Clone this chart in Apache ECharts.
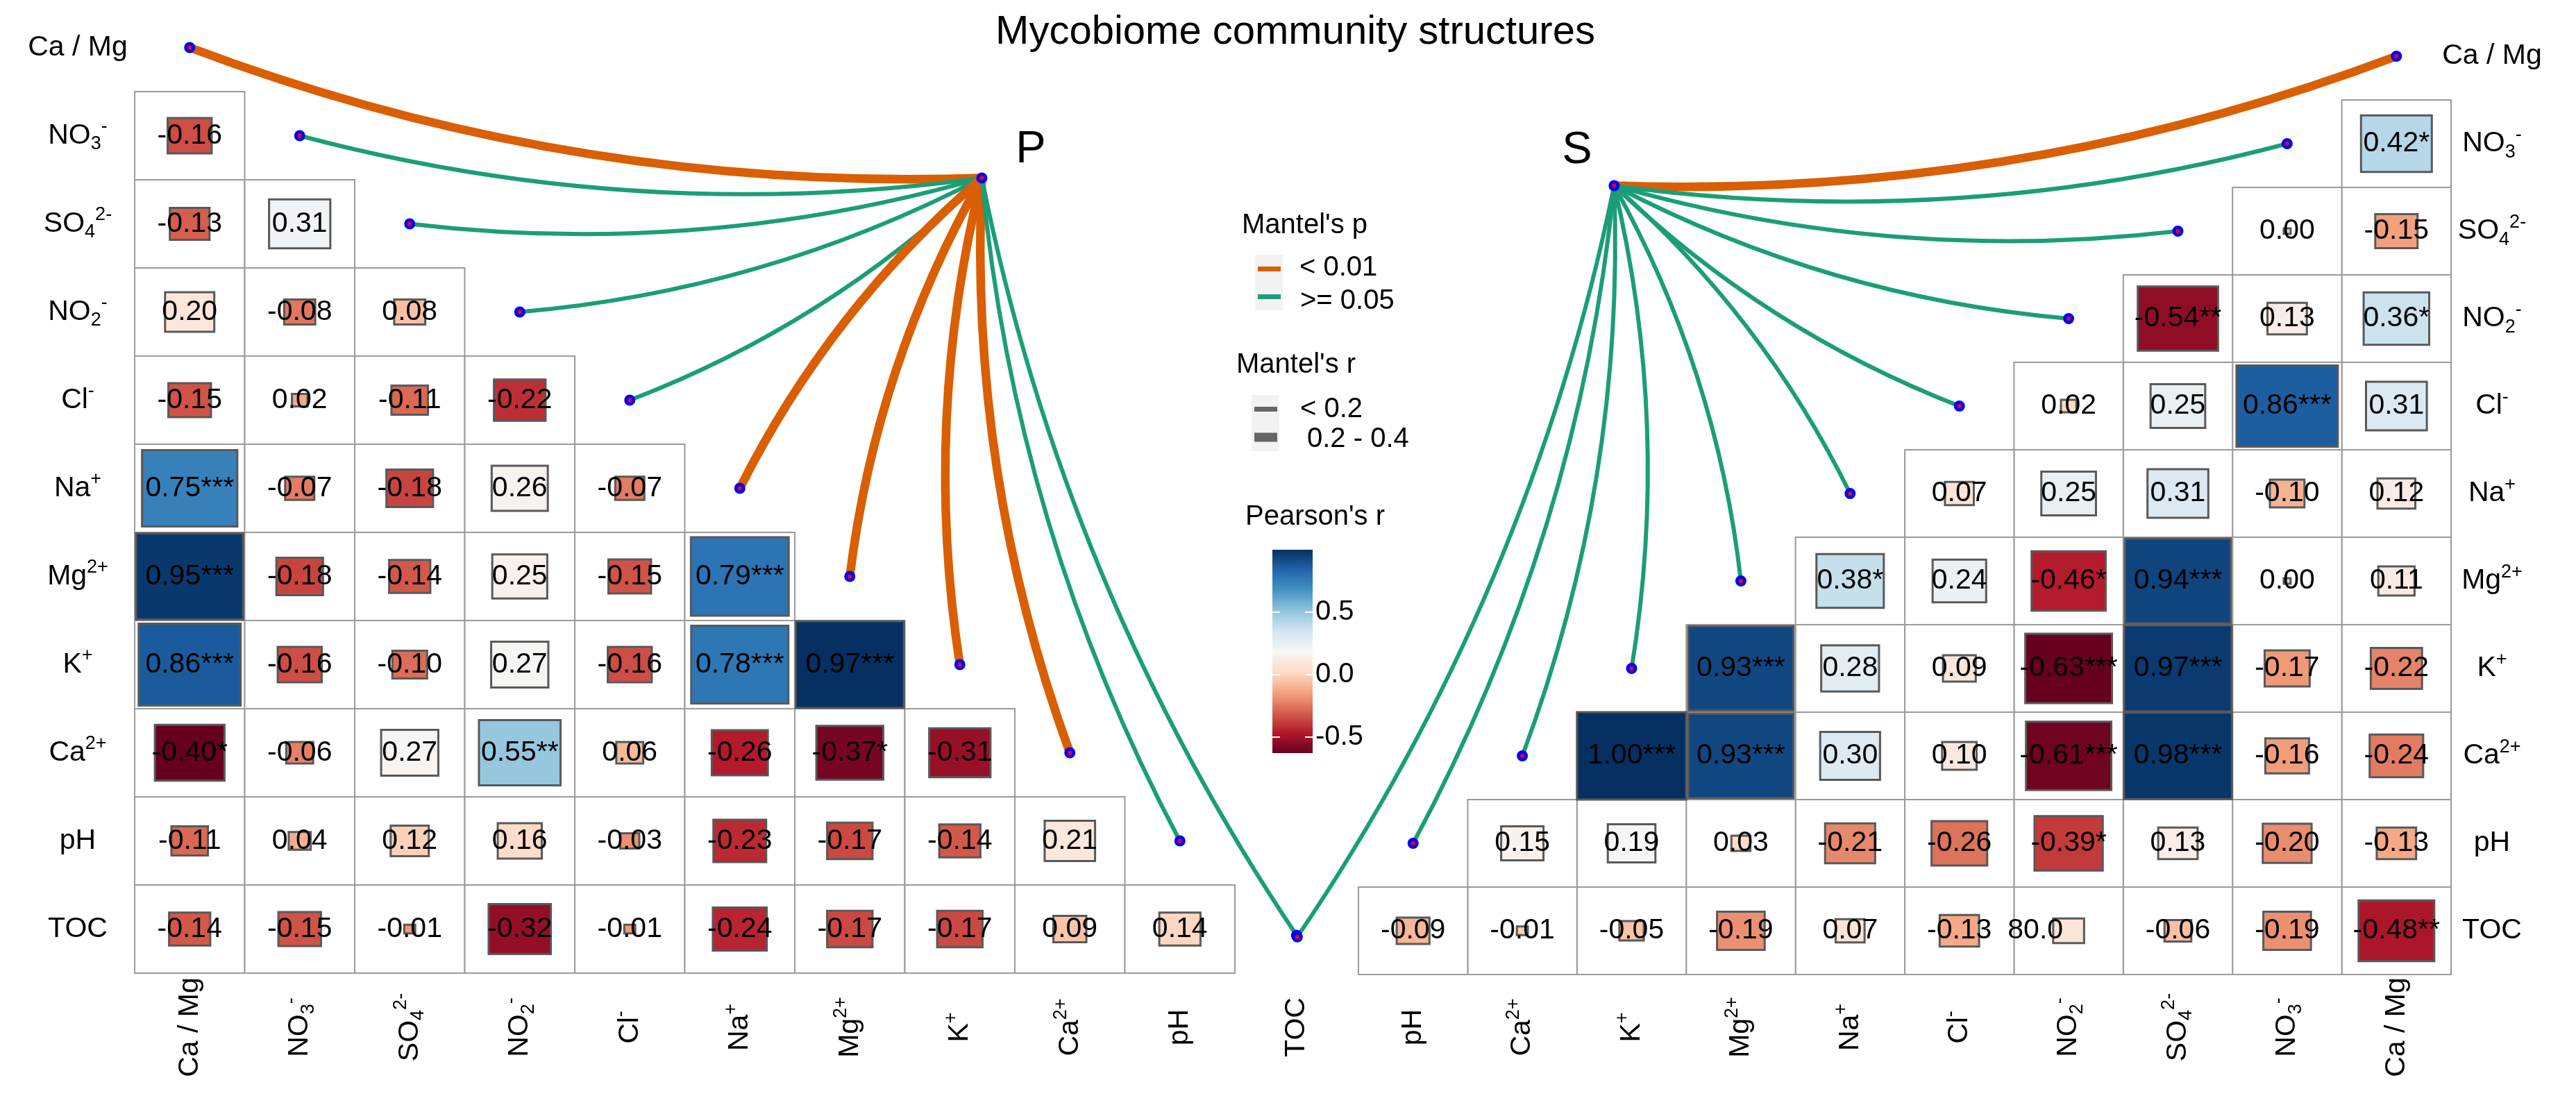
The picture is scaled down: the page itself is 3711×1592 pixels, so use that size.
<!DOCTYPE html>
<html>
<head>
<meta charset="utf-8">
<script src="https://cdn.jsdelivr.net/npm/echarts@6/dist/echarts.min.js"></script>
<style>html,body{margin:0;padding:0;background:#fff}#c{width:3711px;height:1592px}</style>
</head>
<body>
<div id="c"></div>
<script>
// ---------------- data ----------------
const VARS = ['Ca / Mg', 'NO3-', 'SO4 2-', 'NO2-', 'Cl-', 'Na+', 'Mg2+', 'K+', 'Ca2+', 'pH', 'TOC'];
const VAR_LABELS = ['{m|Ca / Mg}', '{m|NO}{sub|3}{sup|-}', '{m|SO}{sub|4}{sup|2-}', '{m|NO}{sub|2}{sup|-}',
  '{m|Cl}{sup|-}', '{m|Na}{sup|+}', '{m|Mg}{sup|2+}', '{m|K}{sup|+}', '{m|Ca}{sup|2+}', '{m|pH}', '{m|TOC}'];

// Pearson's r, lower triangle (row i holds columns 0..i-1), "P" panel (left)
const P_R = [
  [],
  [-0.16],
  [-0.13, 0.31],
  [0.20, -0.08, 0.08],
  [-0.15, 0.02, -0.11, -0.22],
  [0.75, -0.07, -0.18, 0.26, -0.07],
  [0.95, -0.18, -0.14, 0.25, -0.15, 0.79],
  [0.86, -0.16, -0.10, 0.27, -0.16, 0.78, 0.97],
  [-0.40, -0.06, 0.27, 0.55, 0.06, -0.26, -0.37, -0.31],
  [-0.11, 0.04, 0.12, 0.16, -0.03, -0.23, -0.17, -0.14, 0.21],
  [-0.14, -0.15, -0.01, -0.32, -0.01, -0.24, -0.17, -0.17, 0.09, 0.14]
];
const P_SIG = [
  [], [0], [0, 0], [0, 0, 0], [0, 0, 0, 0], [3, 0, 0, 0, 0], [3, 0, 0, 0, 0, 3],
  [3, 0, 0, 0, 0, 3, 3], [1, 0, 0, 2, 0, 0, 1, 0], [0, 0, 0, 0, 0, 0, 0, 0, 0], [0, 0, 0, 0, 0, 0, 0, 0, 0, 0]
];
// "S" panel (right, mirrored)
const S_R = [
  [],
  [0.42],
  [-0.15, 0.004],
  [0.36, 0.13, -0.54],
  [0.31, 0.86, 0.25, 0.02],
  [0.12, -0.10, 0.31, 0.25, 0.07],
  [0.11, 0.004, 0.94, -0.46, 0.24, 0.38],
  [-0.22, -0.17, 0.97, -0.63, 0.09, 0.28, 0.93],
  [-0.24, -0.16, 0.98, -0.61, 0.10, 0.30, 0.93, 1.00],
  [-0.13, -0.20, 0.13, -0.39, -0.26, -0.21, 0.03, 0.19, 0.15],
  [-0.48, -0.19, -0.06, 0.08, -0.13, 0.07, -0.19, -0.05, -0.01, -0.09]
];
const S_SIG = [
  [], [1], [0, 0], [1, 0, 2], [0, 3, 0, 0], [0, 0, 0, 0, 0], [0, 0, 3, 1, 0, 1],
  [0, 0, 3, 3, 0, 0, 3], [0, 0, 3, 3, 0, 0, 3, 3], [0, 0, 0, 1, 0, 0, 0, 0, 0], [2, 0, 0, 0, 0, 0, 0, 0, 0, 0]
];
const S_LABEL_OVERRIDES = [{ row: 10, col: 3, text: '80.0' }];

// Mantel test classes for each environmental variable (order of VARS)
const P_MANTEL_P = ['< 0.01', '>= 0.05', '>= 0.05', '>= 0.05', '>= 0.05', '< 0.01', '< 0.01', '< 0.01', '< 0.01', '>= 0.05', '>= 0.05'];
const P_MANTEL_R = ['0.2 - 0.4', '< 0.2', '< 0.2', '< 0.2', '< 0.2', '0.2 - 0.4', '0.2 - 0.4', '0.2 - 0.4', '0.2 - 0.4', '< 0.2', '< 0.2'];
const S_MANTEL_P = ['< 0.01', '>= 0.05', '>= 0.05', '>= 0.05', '>= 0.05', '>= 0.05', '>= 0.05', '>= 0.05', '>= 0.05', '>= 0.05', '>= 0.05'];
const S_MANTEL_R = ['0.2 - 0.4', '< 0.2', '< 0.2', '< 0.2', '< 0.2', '< 0.2', '< 0.2', '< 0.2', '< 0.2', '< 0.2', '< 0.2'];
const P_CLASSES = ['< 0.01', '>= 0.05'];
const R_CLASSES = ['< 0.2', '0.2 - 0.4'];
const COLORBAR_TICKS = [-0.5, 0, 0.5];

// ---------------- styles / layout ----------------
const PALETTE = ['#67001F', '#B2182B', '#D6604D', '#F4A582', '#FDDBC7', '#F7F7F7', '#D1E5F0', '#92C5DE', '#4393C3', '#2166AC', '#053061'];
const P_COLOR = { '< 0.01': '#D95F02', '>= 0.05': '#1B9E77' };
const R_WIDTH = { '< 0.2': 6, '0.2 - 0.4': 12.5 };
const FONT = "'Liberation Sans', Arial, Helvetica, sans-serif";
const L_COL = 158.5, L_ROW = 127, R_COL = 157.4, R_ROW = 126;
const R_RIGHT = 3531;
const P_HUB = [7.70, 1.98];
const S_HUB = [7.66, 1.98];
const TOC_PT = [10.56, 10.57];
const CURV = 0.1;

function flat(m) { return m.reduce((a, r) => a.concat(r), []); }
const P_MIN = Math.min(...flat(P_R)), P_MAX = Math.max(...flat(P_R));
const S_MIN = Math.min(...flat(S_R)), S_MAX = Math.max(...flat(S_R));

function cellData(R, SIG) {
  const out = [];
  R.forEach((row, i) => row.forEach((r, k) => out.push([k, i, r, SIG[i][k]])));
  return out;
}
function pointPos(i) { return i < 10 ? [i + 0.5, i + 0.5] : TOC_PT; }

const RICH = {
  m: { fontSize: 41, lineHeight: 52, fontFamily: FONT, color: '#000' },
  sub: { fontSize: 27, lineHeight: 27, verticalAlign: 'bottom', fontFamily: FONT, color: '#000' },
  sup: { fontSize: 27, lineHeight: 27, verticalAlign: 'top', fontFamily: FONT, color: '#000' }
};
const half = (n) => Array.from({ length: n }, (_, i) => i + 0.5);
const labelFor = (v) => VAR_LABELS[v > 10 ? 10 : Math.floor(v)];

function cellRenderer(overrides) {
  return function (params, api) {
    const k = api.value(0), i = api.value(1), r = api.value(2), stars = api.value(3);
    const a = api.coord([k, i]), b = api.coord([k + 1, i + 1]);
    const x0 = Math.min(a[0], b[0]), x1 = Math.max(a[0], b[0]);
    const y0 = Math.min(a[1], b[1]), y1 = Math.max(a[1], b[1]);
    const w = x1 - x0, h = y1 - y0, cx = (x0 + x1) / 2, cy = (y0 + y1) / 2;
    const s = Math.sqrt(Math.abs(r));
    const bw = w * s, bh = h * s;
    let text = r.toFixed(2) + '*'.repeat(stars);
    let align = 'center', tx = cx;
    overrides.forEach(o => { if (o.row === i && o.col === k) { text = o.text; align = 'right'; tx = cx - 8; } });
    return {
      type: 'group', children: [
        { type: 'rect', z2: 0, shape: { x: x0, y: y0, width: w, height: h }, style: { fill: '#fff', stroke: '#9a9a9a', lineWidth: 2 } },
        { type: 'rect', z2: 1, shape: { x: cx - bw / 2, y: cy - bh / 2, width: bw, height: bh }, style: { fill: api.visual('color'), stroke: '#595959', lineWidth: 3 } },
        { type: 'text', z2: 10, style: { text: text, x: tx, y: cy, align: align, verticalAlign: 'middle', fontSize: 41, fontFamily: FONT, fill: '#000' } }
      ]
    };
  };
}

// side = 1 for the left panel, -1 for the mirrored right panel
function links(hub, mp, mr, side) {
  return VARS.map((v, i) => {
    const p = pointPos(i);
    const dx = p[0] - hub[0], dy = p[1] - hub[1];
    const c = (Math.abs(dx) >= Math.abs(dy) ? CURV : -CURV) * side;
    return {
      coords: [hub, p],
      lineStyle: { color: P_COLOR[mp[i]], width: R_WIDTH[mr[i]], opacity: 1, curveness: c }
    };
  });
}
function points(hub) { return VARS.map((v, i) => pointPos(i)).concat([hub]); }

const hiddenAxisParts = { axisLine: { show: false }, axisTick: { show: false }, splitLine: { show: false } };

const option = {
  backgroundColor: '#fff',
  animation: false,
  grid: [
    { left: 194, top: 5, width: 11 * L_COL, height: 11 * L_ROW },
    { left: R_RIGHT - 11 * R_COL, top: 18, width: 11 * R_COL, height: 11 * R_ROW },
    { left: 1833, top: 792, width: 58, height: 293 }
  ],
  xAxis: [
    Object.assign({ gridIndex: 0, type: 'value', min: 0, max: 11 }, hiddenAxisParts, {
      axisLabel: { customValues: half(10).concat([TOC_PT[0]]), formatter: labelFor, rotate: 90, align: 'center', verticalAlign: 'middle', margin: 78, rich: RICH }
    }),
    Object.assign({ gridIndex: 1, type: 'value', min: 0, max: 11, inverse: true }, hiddenAxisParts, {
      axisLabel: { customValues: half(10), formatter: labelFor, rotate: 90, align: 'center', verticalAlign: 'middle', margin: 76, rich: RICH }
    }),
    { gridIndex: 2, type: 'value', min: 0, max: 1, show: false }
  ],
  yAxis: [
    Object.assign({ gridIndex: 0, type: 'value', min: 0, max: 11, inverse: true }, hiddenAxisParts, {
      axisLabel: { customValues: half(11), formatter: labelFor, align: 'center', verticalAlign: 'middle', margin: 82, rich: RICH }
    }),
    Object.assign({ gridIndex: 1, type: 'value', min: 0, max: 11, inverse: true, position: 'right' }, hiddenAxisParts, {
      axisLabel: { customValues: half(11), formatter: labelFor, align: 'center', verticalAlign: 'middle', margin: 59, rich: RICH }
    }),
    {
      gridIndex: 2, type: 'value', min: S_MIN, max: S_MAX, position: 'left', z: 10,
      axisLine: { show: false }, splitLine: { show: false }, axisLabel: { show: false },
      axisTick: { show: true, inside: true, length: 11, customValues: COLORBAR_TICKS, lineStyle: { color: '#fff', width: 2 } }
    },
    {
      gridIndex: 2, type: 'value', min: S_MIN, max: S_MAX, position: 'right', z: 10,
      axisLine: { show: false }, splitLine: { show: false },
      axisTick: { show: true, inside: true, length: 11, customValues: COLORBAR_TICKS, lineStyle: { color: '#fff', width: 2 } },
      axisLabel: { show: true, customValues: COLORBAR_TICKS, formatter: (v) => Number(v).toFixed(1), margin: 4, fontSize: 40, color: '#000', fontFamily: FONT }
    }
  ],
  visualMap: [
    { type: 'continuous', show: false, seriesIndex: 0, dimension: 2, min: P_MIN, max: P_MAX, inRange: { color: PALETTE } },
    { type: 'continuous', show: false, seriesIndex: 1, dimension: 2, min: S_MIN, max: S_MAX, inRange: { color: PALETTE } }
  ],
  series: [
    { type: 'custom', xAxisIndex: 0, yAxisIndex: 0, z: 1, clip: false, encode: { x: 0, y: 1 }, data: cellData(P_R, P_SIG), renderItem: cellRenderer([]) },
    { type: 'custom', xAxisIndex: 1, yAxisIndex: 1, z: 1, clip: false, encode: { x: 0, y: 1 }, data: cellData(S_R, S_SIG), renderItem: cellRenderer(S_LABEL_OVERRIDES) },
    { type: 'lines', coordinateSystem: 'cartesian2d', xAxisIndex: 0, yAxisIndex: 0, z: 3, clip: false, lineStyle: { opacity: 1 }, data: links(P_HUB, P_MANTEL_P, P_MANTEL_R, 1) },
    { type: 'lines', coordinateSystem: 'cartesian2d', xAxisIndex: 1, yAxisIndex: 1, z: 3, clip: false, lineStyle: { opacity: 1 }, data: links(S_HUB, S_MANTEL_P, S_MANTEL_R, -1) },
    { type: 'scatter', xAxisIndex: 0, yAxisIndex: 0, z: 4, clip: false, symbolSize: 11, itemStyle: { color: '#FF0000', borderColor: '#0000FF', borderWidth: 5, opacity: 1 }, data: points(P_HUB) },
    { type: 'scatter', xAxisIndex: 1, yAxisIndex: 1, z: 4, clip: false, symbolSize: 11, itemStyle: { color: '#FF0000', borderColor: '#0000FF', borderWidth: 5, opacity: 1 }, data: points(S_HUB) },
    {
      type: 'custom', xAxisIndex: 2, yAxisIndex: 2, z: 2, encode: { x: 0, y: 1 }, data: [[0, 0]],
      renderItem: function (params, api) {
        const a = api.coord([0, S_MAX]), b = api.coord([1, S_MIN]);
        return {
          type: 'rect', shape: { x: a[0], y: a[1], width: b[0] - a[0], height: b[1] - a[1] },
          style: { fill: { type: 'linear', x: 0, y: 0, x2: 0, y2: 1, colorStops: PALETTE.slice().reverse().map((c, i) => ({ offset: i / 10, color: c })) } }
        };
      }
    }
  ],
  graphic: [
    { type: 'text', style: { text: 'Mycobiome community structures', x: 1866, y: 47, align: 'center', verticalAlign: 'middle', fontSize: 58, fontFamily: FONT, fill: '#000' } },
    { type: 'text', style: { text: 'P', x: 1485, y: 216, align: 'center', verticalAlign: 'middle', fontSize: 65, fontFamily: FONT, fill: '#000' } },
    { type: 'text', style: { text: 'S', x: 2272, y: 217, align: 'center', verticalAlign: 'middle', fontSize: 65, fontFamily: FONT, fill: '#000' } },
    // Mantel's p legend
    { type: 'text', style: { text: "Mantel's p", x: 1789, y: 325, align: 'left', verticalAlign: 'middle', fontSize: 40, fontFamily: FONT, fill: '#000' } },
    { type: 'rect', shape: { x: 1808, y: 367, width: 40, height: 80 }, style: { fill: '#F2F2F2' } },
    { type: 'line', shape: { x1: 1812, y1: 387.5, x2: 1845, y2: 387.5 }, style: { stroke: P_COLOR[P_CLASSES[0]], lineWidth: 7 } },
    { type: 'line', shape: { x1: 1812, y1: 427.5, x2: 1845, y2: 427.5 }, style: { stroke: P_COLOR[P_CLASSES[1]], lineWidth: 7 } },
    { type: 'text', style: { text: P_CLASSES[0], x: 1872, y: 386, align: 'left', verticalAlign: 'middle', fontSize: 40, fontFamily: FONT, fill: '#000' } },
    { type: 'text', style: { text: P_CLASSES[1], x: 1873, y: 434, align: 'left', verticalAlign: 'middle', fontSize: 40, fontFamily: FONT, fill: '#000' } },
    // Mantel's r legend
    { type: 'text', style: { text: "Mantel's r", x: 1781, y: 526, align: 'left', verticalAlign: 'middle', fontSize: 40, fontFamily: FONT, fill: '#000' } },
    { type: 'rect', shape: { x: 1803, y: 569, width: 40, height: 81 }, style: { fill: '#F2F2F2' } },
    { type: 'line', shape: { x1: 1807, y1: 589.5, x2: 1840, y2: 589.5 }, style: { stroke: '#666666', lineWidth: 7 } },
    { type: 'line', shape: { x1: 1807, y1: 630, x2: 1840, y2: 630 }, style: { stroke: '#666666', lineWidth: 13 } },
    { type: 'text', style: { text: R_CLASSES[0], x: 1873, y: 590, align: 'left', verticalAlign: 'middle', fontSize: 40, fontFamily: FONT, fill: '#000' } },
    { type: 'text', style: { text: R_CLASSES[1], x: 1883, y: 633, align: 'left', verticalAlign: 'middle', fontSize: 40, fontFamily: FONT, fill: '#000' } },
    // Pearson's r legend title
    { type: 'text', style: { text: "Pearson's r", x: 1794, y: 745, align: 'left', verticalAlign: 'middle', fontSize: 40, fontFamily: FONT, fill: '#000' } }
  ]
};

const chart = echarts.init(document.getElementById('c'), null, { renderer: 'canvas', width: 3711, height: 1592 });
chart.setOption(option);
</script>
</body>
</html>
